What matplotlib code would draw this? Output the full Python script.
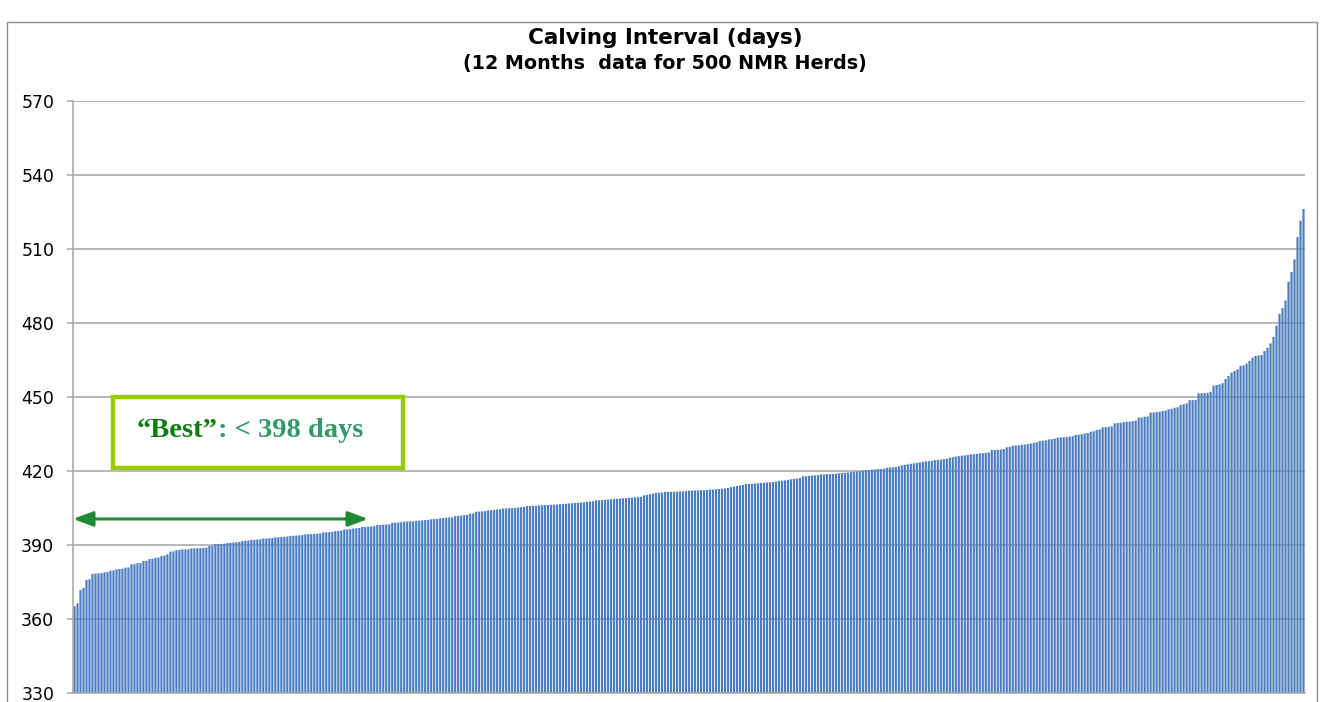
import matplotlib
matplotlib.use("Agg")
import matplotlib.pyplot as plt
from matplotlib.patches import Rectangle
import numpy as np

# Calving interval (days) for herds, sorted ascending
calving_interval = [
    365.1, 366.2, 371.6, 372.5, 375.7, 376.0, 378.2, 378.3, 378.4, 378.5,
    378.8, 378.9, 379.5, 379.6, 380.0, 380.1, 380.3, 380.7, 380.8, 382.0,
    382.1, 382.5, 382.6, 383.4, 383.5, 384.2, 384.3, 384.7, 384.8, 385.4,
    385.6, 386.1, 387.2, 387.3, 387.8, 387.9, 388.1, 388.1, 388.2, 388.5,
    388.5, 388.6, 388.6, 388.7, 388.8, 389.5, 389.6, 390.2, 390.2, 390.3,
    390.4, 390.7, 390.8, 390.9, 391.0, 391.1, 391.5, 391.6, 391.7, 392.0,
    392.0, 392.1, 392.2, 392.5, 392.5, 392.6, 392.7, 393.0, 393.0, 393.1,
    393.2, 393.3, 393.6, 393.6, 393.7, 393.8, 393.9, 394.2, 394.3, 394.3,
    394.4, 394.5, 394.6, 395.0, 395.0, 395.1, 395.2, 395.5, 395.6, 395.7,
    396.2, 396.2, 396.3, 396.6, 396.7, 396.8, 397.2, 397.2, 397.3, 397.4,
    397.5, 398.0, 398.0, 398.1, 398.2, 398.3, 398.9, 398.9, 399.0, 399.1,
    399.4, 399.4, 399.5, 399.5, 399.6, 399.7, 399.9, 400.0, 400.1, 400.3,
    400.4, 400.5, 400.7, 400.8, 400.9, 401.0, 401.1, 401.6, 401.7, 401.8,
    402.0, 402.1, 402.6, 402.7, 403.4, 403.4, 403.5, 403.6, 403.9, 404.0,
    404.1, 404.3, 404.4, 404.7, 404.7, 404.8, 404.8, 404.9, 405.1, 405.2,
    405.3, 405.7, 405.7, 405.8, 405.8, 405.9, 406.0, 406.1, 406.1, 406.2,
    406.2, 406.3, 406.4, 406.5, 406.6, 406.7, 406.8, 406.9, 407.0, 407.1,
    407.2, 407.4, 407.5, 407.6, 408.0, 408.0, 408.1, 408.2, 408.3, 408.4,
    408.5, 408.6, 408.7, 408.8, 408.9, 409.0, 409.1, 409.2, 409.3, 409.4,
    410.0, 410.2, 410.5, 410.7, 411.0, 411.1, 411.2, 411.4, 411.4, 411.4,
    411.5, 411.5, 411.6, 411.6, 411.7, 411.9, 411.9, 412.0, 412.0, 412.1,
    412.1, 412.2, 412.4, 412.4, 412.5, 412.6, 412.7, 412.8, 413.0, 413.3,
    413.5, 413.8, 414.0, 414.2, 414.6, 414.6, 414.7, 414.8, 414.9, 415.0,
    415.1, 415.2, 415.3, 415.4, 415.6, 415.9, 416.0, 416.1, 416.3, 416.5,
    416.7, 416.8, 417.0, 417.7, 417.8, 417.9, 418.0, 418.1, 418.2, 418.5,
    418.5, 418.6, 418.6, 418.7, 418.8, 418.9, 419.1, 419.2, 419.3, 419.5,
    419.6, 419.7, 419.8, 420.0, 420.1, 420.2, 420.4, 420.5, 420.6, 420.7,
    420.8, 421.2, 421.3, 421.4, 421.5, 421.8, 422.2, 422.4, 422.6, 422.8,
    423.0, 423.2, 423.4, 423.6, 423.8, 423.9, 424.0, 424.3, 424.4, 424.5,
    424.7, 424.9, 425.3, 425.5, 425.7, 425.9, 426.1, 426.2, 426.4, 426.6,
    426.7, 426.8, 427.0, 427.1, 427.2, 427.4, 428.4, 428.4, 428.5, 428.6,
    428.8, 429.5, 429.7, 430.1, 430.2, 430.3, 430.5, 430.6, 430.8, 431.0,
    431.3, 431.5, 432.0, 432.1, 432.3, 432.7, 432.8, 433.0, 433.4, 433.5,
    433.6, 433.7, 433.8, 434.0, 434.5, 434.6, 434.8, 435.1, 435.3, 435.8,
    436.0, 436.5, 436.7, 437.6, 437.7, 437.8, 438.0, 439.2, 439.3, 439.4,
    439.7, 439.8, 439.9, 440.1, 440.3, 441.5, 441.6, 441.9, 442.0, 443.5,
    443.6, 443.8, 443.9, 444.2, 444.4, 444.9, 445.1, 445.5, 445.7, 446.6,
    446.9, 447.3, 448.6, 448.6, 448.7, 451.4, 451.4, 451.5, 451.6, 452.0,
    454.5, 454.7, 455.0, 455.5, 457.2, 458.4, 459.8, 460.5, 461.1, 462.5,
    462.7, 463.4, 464.5, 465.8, 466.5, 466.7, 466.9, 468.5, 469.8, 471.6,
    474.2, 478.8, 483.6, 485.9, 489.0, 496.6, 500.6, 505.7, 514.7, 521.4,
    526.1,
]
y_ticks = [330, 360, 390, 420, 450, 480, 510, 540, 570]
title_line1 = "Calving Interval (days)"
title_line2 = "(12 Months  data for 500 NMR Herds)"
best_label = "\u201cBest\u201d"
best_rest = ": < 398 days"
best_threshold_frac = 0.2395  # arrow extent along the sorted herds

W, H = 1323, 702
fig = plt.figure(figsize=(W / 100, H / 100), dpi=100)
fig.patch.set_facecolor("white")

# outer chart border
fig.add_artist(Rectangle((7 / W, -0.05), (1317 - 7) / W, (H - 22) / H + 0.05,
                         transform=fig.transFigure, fill=False,
                         edgecolor="#8E8E8E", linewidth=1.0))

ax = fig.add_axes([73 / W, 9.3 / H, (1305 - 73) / W, (692.7 - 100.7) / H])
n = len(calving_interval)
x = np.arange(n)
bars = ax.bar(x, np.array(calving_interval) - 330, bottom=330, width=0.72,
              color="#4A7CC0", linewidth=0, zorder=2)
for b in bars:
    b.set_snap(False)

ax.set_xlim(-0.5, n - 0.5)
ax.set_ylim(330, 570)
ax.set_yticks(y_ticks)
ax.set_xticks([])
ax.yaxis.grid(True, color="#A6A6A6", linewidth=1.1, zorder=1)
ax.set_axisbelow(True)
for s in ["top", "right"]:
    ax.spines[s].set_visible(False)
ax.spines["left"].set_color("#A6A6A6")
ax.spines["left"].set_linewidth(1.1)
ax.spines["bottom"].set_color("#A6A6A6")
ax.spines["bottom"].set_linewidth(1.1)
ax.tick_params(axis="y", length=4.5, width=1.1, color="#A6A6A6", pad=9,
               labelsize=12.5, labelcolor="black")
for lab in ax.get_yticklabels():
    lab.set_fontfamily("DejaVu Sans")

# titles
fig.text(665 / W, 1 - 38 / H, title_line1, ha="center", va="center",
         fontsize=15.5, fontweight="bold", family="DejaVu Sans")
fig.text(665 / W, 1 - 63 / H, title_line2, ha="center", va="center",
         fontsize=13.8, fontweight="bold", family="DejaVu Sans")

# "Best" box
ax.add_patch(Rectangle((0.0325, 0.3796), 0.2355, 0.12, transform=ax.transAxes,
                       fill=True, facecolor="white", edgecolor="#99CC00",
                       linewidth=3.2, zorder=5))
t1 = ax.text(0.052, 0.4437, best_label, transform=ax.transAxes, ha="left",
             va="center", fontsize=20.5, fontweight="bold",
             family="Liberation Serif", color="#0B7D0B", zorder=6)
ax.annotate(best_rest, xy=(1, 0), xycoords=t1, ha="left", va="bottom",
            fontsize=20.5, fontweight="bold", family="Liberation Serif",
            color="#34996A", zorder=6)

# double-headed arrow
ax.annotate("", xy=(0.0, 0.2935), xytext=(best_threshold_frac, 0.2935),
            xycoords="axes fraction", textcoords="axes fraction",
            arrowprops=dict(arrowstyle="<|-|>,head_length=1.2,head_width=0.45",
                            color="#1E8B34", facecolor="#2E9A5C",
                            linewidth=2.2, shrinkA=0, shrinkB=0),
            zorder=6)

fig.savefig("out.png", dpi=100)
